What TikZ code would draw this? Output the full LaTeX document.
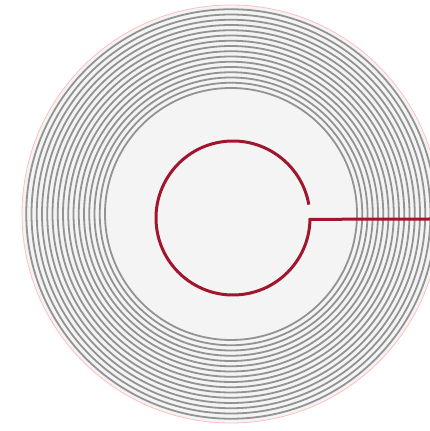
\documentclass[tikz,border=0pt]{standalone}
\definecolor{wirered}{RGB}{160,22,45}
\definecolor{discgray}{RGB}{244,244,244}
\begin{document}
\begin{tikzpicture}[x=1pt,y=1pt,
    ring/.style={draw=gray!85, line width=1.8pt},
    coil/.style={draw=wirered, line width=3pt}]
    \useasboundingbox (0,0) rectangle (430,431);
    % Disc with its grooves
    \coordinate (disc) at (231,217);
    \fill[discgray] (disc) circle (209);
    \foreach \i in {0,...,15}
        \draw[ring] (disc) circle ({126+5.25*\i});
    \draw[red!25, line width=0.8pt] (disc) circle (209);

    % Red loop and its lead to the edge
    \coordinate (loop) at (233,213);
    \coordinate (lead) at (430,212);
    \draw[coil] ([shift={(10:77)}]loop) arc (10:359:77) -- (lead);
\end{tikzpicture}
\end{document}
